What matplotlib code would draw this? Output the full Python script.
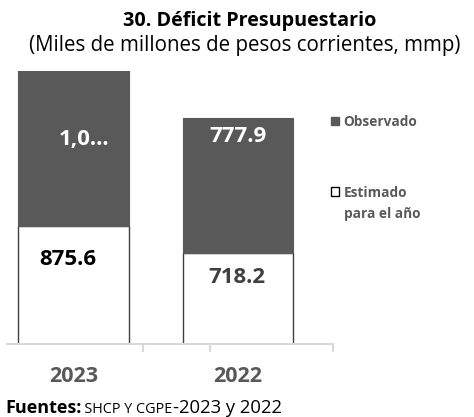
import matplotlib
matplotlib.use("Agg")
import matplotlib.pyplot as plt
from matplotlib.patches import Patch, Rectangle
from matplotlib.legend_handler import HandlerPatch

plt.rcParams['font.family'] = ['Open Sans', 'DejaVu Sans']

# ---- data ----
years = ["2023", "2022"]
estimado = [875.6, 718.2]
observado = [1050.0, 777.9]          # 2023 value truncated in the source ("1,0…")
est_labels = ["875.6", "718.2"]
obs_labels = ["1,0\u2026", "777.9"]
title = "30. Déficit Presupuestario"
subtitle = "(Miles de millones de pesos corrientes, mmp)"
legend_labels = ["Observado", "Estimado\npara el año"]

# ---- style ----
dark = "#595959"
gray_txt = "#595959"
axis_gray = "#d9d9d9"
est_label_colors = ["#000000", "#404040"]
est_offsets = [(-6, -34), (-1, -24)]     # pixels relative to segment top
obs_offsets = [(11, -69), (0, -18)]
lbl_size = 16

fig = plt.figure(figsize=(4.74, 4.17), dpi=100)
ax = fig.add_axes([7/474, (417-344)/417, (333-7)/474, (344-71)/417])

x = [0, 1]
w = 0.67
ymin, ymax = 195, 1767
ax.bar(x, estimado, width=w, color="white", edgecolor="#404040", linewidth=1.0, zorder=2)
ax.bar(x, observado, width=w, bottom=estimado, color=dark, edgecolor=dark, linewidth=0.8, zorder=2)
ax.set_ylim(ymin, ymax)
ax.set_xlim(-0.404, 1.578)

for i in range(2):
    ax.annotate(est_labels[i], xy=(x[i], estimado[i]), xytext=est_offsets[i],
                textcoords="offset pixels", ha="center", va="center",
                fontsize=lbl_size, fontweight="bold", color=est_label_colors[i], zorder=3)
    top = min(estimado[i] + observado[i], ymax)
    ax.annotate(obs_labels[i], xy=(x[i], top), xytext=obs_offsets[i],
                textcoords="offset pixels", ha="center", va="center",
                fontsize=lbl_size, fontweight="bold", color="white", zorder=3,
                annotation_clip=False)

for s in ["left", "right", "top"]:
    ax.spines[s].set_visible(False)
ax.spines["bottom"].set_color(axis_gray)
ax.spines["bottom"].set_linewidth(1.5)
ax.set_yticks([])
ax.set_xticks(x)
ax.set_xticklabels(years, fontsize=15.5, fontweight="bold", color=gray_txt)
ax.tick_params(axis="x", which="major", length=0, pad=16)
ax.set_xticks([0.4225, 0.83, 1.578], minor=True)
ax.tick_params(axis="x", which="minor", length=6, width=1.5, color=axis_gray)


class UpHandler(HandlerPatch):
    def __init__(self, shift=0.0, **kw):
        super().__init__(**kw)
        self.shift = shift

    def create_artists(self, legend, orig_handle, xdescent, ydescent, width, height, fontsize, trans):
        p = Rectangle((-xdescent, -ydescent + self.shift * fontsize), width, height)
        self.update_prop(p, orig_handle, legend)
        p.set_transform(trans)
        return [p]


h_obs = Patch(facecolor=dark, edgecolor=dark)
h_est = Patch(facecolor="white", edgecolor="#000000", linewidth=1.0)
leg = ax.legend([h_obs, h_est], legend_labels, loc="upper left",
                bbox_to_anchor=(0.955, 0.885), frameon=False, fontsize=9.8,
                handlelength=0.6, handleheight=0.6, handletextpad=0.35,
                labelspacing=4.25,
                handler_map={h_est: UpHandler(shift=0.95), h_obs: HandlerPatch()})
for t in leg.get_texts():
    t.set_color(gray_txt)
    t.set_fontweight("bold")
    t.set_linespacing(1.6)

fig.text(250/474, 1 - 21/417, title, ha="center", va="center", fontsize=14.2, fontweight="bold")
fig.text(245/474, 1 - 45/417, subtitle, ha="center", va="center", fontsize=14.8)

t1 = fig.text(5/474, 1 - 413/417, "Fuentes:", ha="left", va="baseline", fontsize=13, fontweight="bold")
a2 = fig.add_artist(plt.Annotation("\u2009SHCP Y CGPE", xy=(1, 0), xycoords=t1, xytext=(1, 0),
                                   textcoords="offset pixels", ha="left", va="bottom", fontsize=10.4))
a3 = fig.add_artist(plt.Annotation("-2023 y 2022", xy=(1, 0), xycoords=a2, xytext=(0, 0),
                                   textcoords="offset pixels", ha="left", va="bottom", fontsize=13.3))

fig.savefig("out.png", dpi=100)
